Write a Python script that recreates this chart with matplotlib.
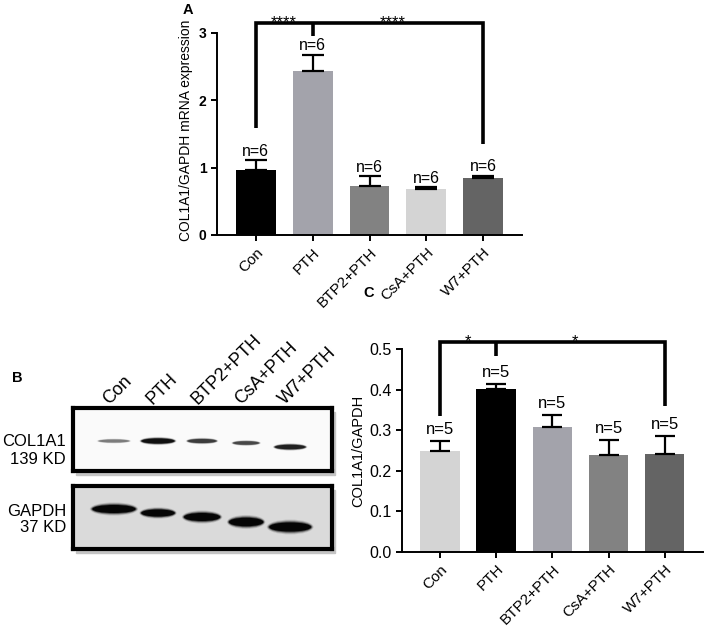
# COL1A1 figure: qPCR (A), western blot (B) and blot densitometry (C)

import numpy as np
import matplotlib
matplotlib.use('Agg')
import matplotlib.pyplot as plt
from matplotlib.patches import Ellipse, Rectangle
import matplotlib.transforms as mtransforms

plt.rcParams['font.family'] = ['Liberation Sans', 'DejaVu Sans']

W, H = 708, 629

groups = ['Con', 'PTH', 'BTP2+PTH', 'CsA+PTH', 'W7+PTH']

# panel A - COL1A1/GAPDH mRNA
mrna_mean = [0.97, 2.43, 0.73, 0.69, 0.85]
mrna_err = [0.14, 0.25, 0.14, 0.02, 0.03]
mrna_n = [6, 6, 6, 6, 6]
mrna_colors = ['#000000', '#a3a3ab', '#828282', '#d4d4d4', '#646464']
# bracket: top, left leg end, middle tick end, right leg end
mrna_bracket = [3.15, 1.59, 2.96, 1.35]
mrna_stars = '****'

# panel C - COL1A1/GAPDH protein
wb_mean = [0.249, 0.401, 0.309, 0.240, 0.242]
wb_err = [0.025, 0.013, 0.029, 0.036, 0.044]
wb_n = [5, 5, 5, 5, 5]
wb_colors = ['#d4d4d4', '#000000', '#a3a3ab', '#828282', '#646464']
wb_bracket = [0.518, 0.334, 0.483, 0.36]
wb_stars = '*'

# panel B - relative band intensity per lane
col1a1_band = [0.55, 1.0, 0.8, 0.75, 0.9]
gapdh_band = [1.0, 1.0, 1.0, 1.0, 1.0]


def px_axes(fig, x0, y0, x1, y1):
    return fig.add_axes([x0 / W, 1 - y1 / H, (x1 - x0) / W, (y1 - y0) / H])


def bar_panel(ax, means, errs, ns, colors, ymax, yticks, bracket, stars,
              capsize, nsize, nofs):
    x = np.arange(len(means))
    ax.bar(x, means, width=0.7, color=colors, zorder=2)
    ax.errorbar(x, means, yerr=[np.zeros(len(errs)), errs], fmt='none',
                ecolor='k', elinewidth=1.6, capsize=capsize, capthick=1.6,
                zorder=3)
    for i in x:
        ax.annotate('n=%d' % ns[i], (i, means[i] + errs[i]),
                    xytext=(0, nofs), textcoords='offset points',
                    ha='center', va='bottom', fontsize=nsize)
    top, left, mid, right = bracket
    ax.plot([0, 0, 4, 4], [left, top, top, right], color='k', lw=2.6,
            clip_on=False, solid_joinstyle='miter', solid_capstyle='butt')
    ax.plot([1, 1], [top, mid], color='k', lw=2.6, clip_on=False,
            solid_capstyle='butt')
    for sx in [0.5, 2.4]:
        ax.annotate(stars, (sx, top), xytext=(0, -3),
                    textcoords='offset points', ha='center', va='baseline',
                    fontsize=12, annotation_clip=False)
    ax.set_xlim(-0.68, 4.68)
    ax.set_ylim(0, ymax)
    ax.set_yticks(yticks)
    ax.set_xticks(x)
    ax.set_xticklabels(groups, rotation=45, ha='right',
                       rotation_mode='anchor', fontsize=11)
    for s in ['top', 'right']:
        ax.spines[s].set_visible(False)
    for s in ['left', 'bottom']:
        ax.spines[s].set_linewidth(1.4)
    ax.tick_params(direction='out', length=4, width=1.4)
    ax.patch.set_alpha(0)


fig = plt.figure(figsize=(W / 100, H / 100), dpi=100)

# ---- panel A
axA = px_axes(fig, 217, 33, 522, 235)
bar_panel(axA, mrna_mean, mrna_err, mrna_n, mrna_colors, 3, [0, 1, 2, 3],
          mrna_bracket, mrna_stars, capsize=8, nsize=11.5, nofs=1)
for lab in axA.get_yticklabels():
    lab.set_fontweight('bold')
    lab.set_fontsize(10)
axA.set_ylabel('COL1A1/GAPDH mRNA expression', fontsize=10)
axA.yaxis.set_label_coords(-0.079, 0.52)
fig.text(183 / W, 1 - 10 / H, 'A', fontsize=10.5, fontweight='bold',
         ha='left', va='center')

# ---- panel C
axC = px_axes(fig, 401.7, 349.3, 703, 551.7)
bar_panel(axC, wb_mean, wb_err, wb_n, wb_colors, 0.5,
          [0, 0.1, 0.2, 0.3, 0.4, 0.5], wb_bracket, wb_stars,
          capsize=7, nsize=12, nofs=3)
axC.set_yticklabels(['%.1f' % v for v in axC.get_yticks()], fontsize=11.5)
axC.set_ylabel('COL1A1/GAPDH', fontsize=10.5)
axC.yaxis.set_label_coords(-0.122, 0.5)
fig.text(363 / W, 1 - 293 / H, 'C', fontsize=10.5, fontweight='bold',
         ha='left', va='center')

# ---- panel B (blot)
fig.text(12 / W, 1 - 378 / H, 'B', fontsize=10.5, fontweight='bold',
         ha='left', va='center')

lane_x = np.arange(len(groups))
# band geometry in (lane, px) units: width, height, y offset from box top
col_w = [0.70, 0.75, 0.66, 0.60, 0.70]
col_h = [3.0, 5.0, 4.0, 3.5, 4.5]
col_y = [33, 33, 33, 35, 39]
col_shade = ['#505050', '#101010', '#2a2a2a', '#303030', '#181818']
gap_w = [0.98, 0.76, 0.82, 0.78, 0.95]
gap_h = [8, 7, 8, 8.5, 9]
gap_y = [23, 27, 31, 36, 41]

blots = [
    (408, 471, '#fafafa', col1a1_band, col_w, col_h, col_y, col_shade,
     ('COL1A1', '139 KD'), (441.7, 459)),
    (486, 549, '#dadada', gapdh_band, gap_w, gap_h, gap_y, ['#050505'] * 5,
     ('GAPDH', '37 KD'), (512, 528)),
]

for (y0, y1, bg, inten, bw, bh, by, shade, labels, label_y) in blots:
    # soft shadow behind the frame
    fig.patches.append(Rectangle(((73 + 3) / W, 1 - (y1 + 4) / H),
                                 (332 - 73) / W, (y1 - y0) / H,
                                 transform=fig.transFigure, color='#c4c4c4',
                                 zorder=-5))
    ax = px_axes(fig, 73, y0, 332, y1)
    ax.set_facecolor(bg)
    ax.set_xlim(-0.93, 4.95)
    ax.set_ylim(y1 - y0, 0)
    ax.set_xticks([])
    ax.set_yticks([])
    for s in ax.spines.values():
        s.set_linewidth(3)
    for i in lane_x:
        for k, a in enumerate([0.12, 0.25, 0.5, 1.0]):
            spread = 3 - k
            ax.add_patch(Ellipse((i, by[i]), bw[i] * (1 + 0.04 * spread),
                                 bh[i] * (1 + 0.22 * spread), color=shade[i],
                                 alpha=a * inten[i], lw=0))
    for txt, ty in zip(labels, label_y):
        fig.text(66 / W, 1 - ty / H, txt, fontsize=12, ha='right',
                 va='center')

# lane labels above the first blot
top_ax = fig.axes[-2]
trans = mtransforms.blended_transform_factory(top_ax.transData,
                                              top_ax.transAxes)
for i, g in enumerate(groups):
    top_ax.text(i - 0.05, 1.0, g, transform=trans, rotation=45,
                ha='left', va='bottom', rotation_mode='anchor',
                fontsize=13, clip_on=False)

fig.savefig('out.png', dpi=100)
